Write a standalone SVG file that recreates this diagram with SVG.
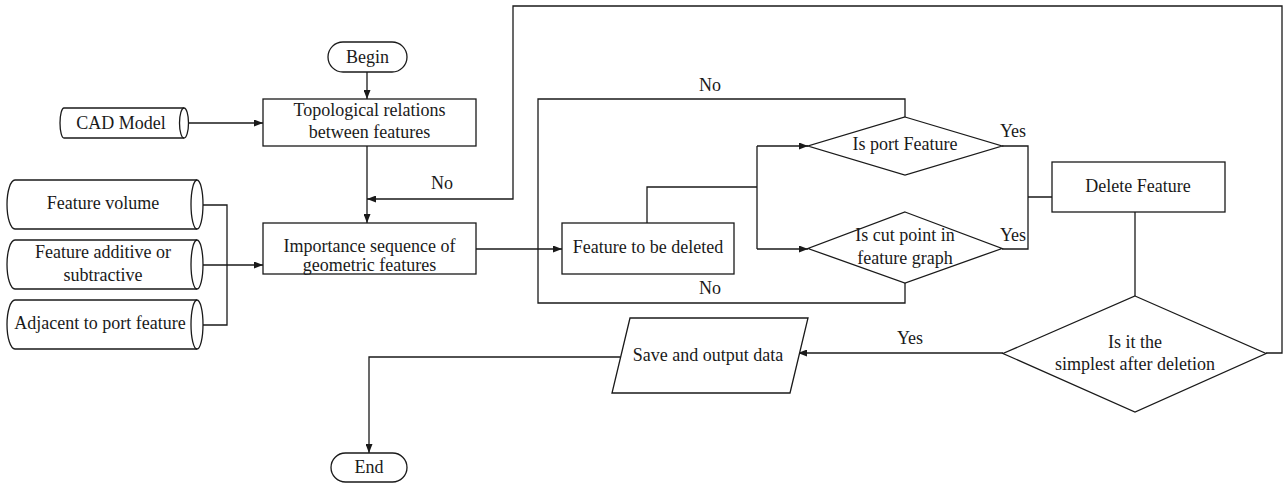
<svg xmlns="http://www.w3.org/2000/svg" width="1286" height="483" viewBox="0 0 1286 483">
  <style>
    .shape { fill: #ffffff; stroke: #1a1a1a; stroke-width: 1.3; }
    .line { fill: none; stroke: #1a1a1a; stroke-width: 1.3; }
    .arrow { marker-end: url(#head); }
    text { font-family: "Liberation Serif", "Times New Roman", serif; font-size: 18px; fill: #1a1a1a; text-anchor: middle; }
  </style>
  <defs>
    <marker id="head" viewBox="0 0 9 7" refX="9" refY="3.5" markerWidth="9" markerHeight="7" markerUnits="userSpaceOnUse" orient="auto">
      <path d="M0,0 L9,3.5 L0,7 Z" fill="#1a1a1a"/>
    </marker>
  </defs>

  <rect width="1286" height="483" fill="#ffffff"/>

  <!-- connectors -->
  <g id="connectors">
    <!-- Begin -> topological relations -->
    <path class="line arrow" d="M367,72 L367,99"/>
    <!-- CAD model -> topological relations -->
    <path class="line arrow" d="M189,123 L263,123"/>
    <!-- topological relations -> importance sequence -->
    <path class="line arrow" d="M367,146 L367,223"/>
    <!-- attribute sources -> importance sequence -->
    <path class="line" d="M203,205 L227,205 L227,325 L203,325 M203,265 L227,265"/>
    <path class="line arrow" d="M227,265 L263,265"/>
    <!-- importance sequence -> feature to be deleted -->
    <path class="line arrow" d="M476,249 L562,249"/>
    <!-- feature to be deleted -> both checks -->
    <path class="line" d="M647,223 L647,187 L757,187 M757,146 L757,249"/>
    <path class="line arrow" d="M757,146 L808,146"/>
    <path class="line arrow" d="M757,249 L808,249"/>
    <!-- "No" returns of the two checks -->
    <path class="line" d="M905,117 L905,99 L538,99 L538,303 L905,303 L905,283"/>
    <!-- "Yes" branches -> delete feature -->
    <path class="line" d="M1002,146 L1028,146 L1028,249 L1002,249 M1028,197 L1052,197"/>
    <!-- delete feature -> simplest check -->
    <path class="line" d="M1135,212 L1135,296"/>
    <!-- simplest check "No" loop back to importance sequence -->
    <path class="line arrow" d="M1266,353 L1282,353 L1282,6 L513,6 L513,199 L367,199"/>
    <!-- simplest check "Yes" -> save -->
    <path class="line arrow" d="M1003,353 L798,353"/>
    <!-- save -> end -->
    <path class="line arrow" d="M620,357 L369,357 L369,453"/>

    <text x="442" y="189">No</text>
    <text x="710" y="91">No</text>
    <text x="710" y="294">No</text>
    <text x="1013" y="137">Yes</text>
    <text x="1013" y="241">Yes</text>
    <text x="910" y="344">Yes</text>
  </g>

  <!-- terminals -->
  <g id="begin">
    <rect class="shape" x="328" y="42" width="79" height="30" rx="15"/>
    <text x="367.5" y="63">Begin</text>
  </g>
  <g id="end">
    <rect class="shape" x="331" y="453" width="76" height="29" rx="14.5"/>
    <text x="369" y="473">End</text>
  </g>

  <!-- data stores -->
  <g id="cad-model">
    <path class="shape" d="M64,108 L184,108 A4.5,15 0 0 1 184,138 L64,138 A4,15 0 0 1 64,108 Z"/>
    <path class="line" d="M184,108 A4.5,15 0 0 0 184,138"/>
    <text x="121" y="129">CAD Model</text>
  </g>
  <g id="feature-volume">
    <path class="shape" d="M15,180 L197,180 A6,24.5 0 0 1 197,229 L15,229 A8,24.5 0 0 1 15,180 Z"/>
    <path class="line" d="M197,180 A6,24.5 0 0 0 197,229"/>
    <text x="103" y="209">Feature volume</text>
  </g>
  <g id="feature-additive">
    <path class="shape" d="M15,240 L197,240 A6,24.5 0 0 1 197,289 L15,289 A8,24.5 0 0 1 15,240 Z"/>
    <path class="line" d="M197,240 A6,24.5 0 0 0 197,289"/>
    <text x="103" y="258">Feature additive or</text>
    <text x="103" y="281">subtractive</text>
  </g>
  <g id="adjacent-port">
    <path class="shape" d="M15,300 L197,300 A6,24.5 0 0 1 197,349 L15,349 A8,24.5 0 0 1 15,300 Z"/>
    <path class="line" d="M197,300 A6,24.5 0 0 0 197,349"/>
    <text x="100" y="329">Adjacent to port feature</text>
  </g>

  <!-- processes -->
  <g id="topological-relations">
    <rect class="shape" x="263" y="99" width="213" height="47"/>
    <text x="369.5" y="116">Topological relations</text>
    <text x="369.5" y="138">between features</text>
  </g>
  <g id="importance-sequence">
    <rect class="shape" x="263" y="223" width="213" height="51"/>
    <text x="369.5" y="252">Importance sequence of</text>
    <text x="369.5" y="271">geometric features</text>
  </g>
  <g id="feature-to-delete">
    <rect class="shape" x="562" y="223" width="172" height="51"/>
    <text x="648" y="253">Feature to be deleted</text>
  </g>
  <g id="delete-feature">
    <rect class="shape" x="1052" y="162" width="173" height="50"/>
    <text x="1138" y="192">Delete Feature</text>
  </g>

  <!-- decisions -->
  <g id="is-port-feature">
    <polygon class="shape" points="905,117 1002,146 905,175 808,146"/>
    <text x="905" y="150">Is port Feature</text>
  </g>
  <g id="is-cut-point">
    <polygon class="shape" points="905,212 1002,248.5 905,283 808,248.5"/>
    <text x="905" y="241">Is cut point in</text>
    <text x="905" y="264">feature graph</text>
  </g>
  <g id="is-simplest">
    <polygon class="shape" points="1135,296 1266,353.5 1135,412 1003,353.5"/>
    <text x="1135" y="348">Is it the</text>
    <text x="1135" y="370">simplest after deletion</text>
  </g>

  <!-- output -->
  <g id="save-output">
    <polygon class="shape" points="630,318 808,318 790,393 612,393"/>
    <text x="708" y="361">Save and output data</text>
  </g>
</svg>
